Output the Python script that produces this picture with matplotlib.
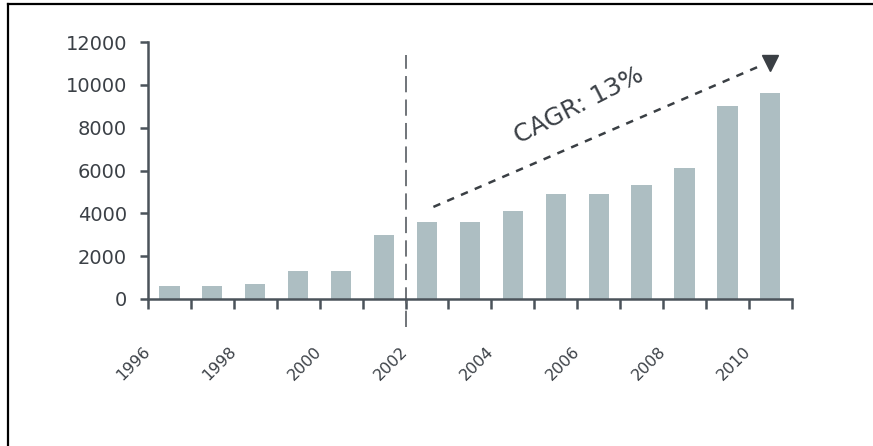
import numpy as np
import matplotlib.pyplot as plt
from matplotlib.lines import Line2D

years = np.arange(1996, 2011)
values = [600, 600, 700, 1300, 1300, 3000, 3600, 3600, 4100, 4900, 4900, 5300, 6100, 9000, 9600]
yticks = [0, 2000, 4000, 6000, 8000, 10000, 12000]
cagr_label = "CAGR: 13%"

bar_color = "#adbec2"
axis_color = "#4b535a"
text_color = "#3b4046"

plt.rcParams['font.family'] = ['DejaVu Sans']

fig = plt.figure(figsize=(8.73, 4.46), dpi=100)
ax = fig.add_axes([0.1695, 0.3296, 0.907 - 0.1695, 0.9058 - 0.3296])

x = np.arange(len(years))
ax.bar(x, values, width=0.47, color=bar_color)

ax.set_xlim(-0.5, len(years) - 0.5)
ax.set_ylim(0, 12000)

# ticks sit on the bar boundaries; every second one carries a year
edges = np.arange(len(years) + 1) - 0.5
ax.set_xticks(edges)
ax.set_xticklabels([str(y) if (y - 1996) % 2 == 0 else "" for y in years] + [""],
                   rotation=45, ha='right', va='center', rotation_mode='anchor',
                   fontsize=11.5, color=text_color)
ax.set_yticks(yticks)
ax.set_yticklabels([str(v) for v in yticks], fontsize=14, color=text_color)

for side in ['top', 'right']:
    ax.spines[side].set_visible(False)
for side in ['left', 'bottom']:
    ax.spines[side].set_color(axis_color)
    ax.spines[side].set_linewidth(1.8)
ax.tick_params(axis='x', length=7, width=1.8, color=axis_color, pad=29)
ax.tick_params(axis='y', length=6, width=1.8, color=axis_color, pad=9)

# split between the two periods
ax.axvline(5.5, ymin=-0.11, ymax=0.95, color="#65696e", linewidth=1.3,
           dashes=(9, 4), clip_on=False)

# growth trend arrow
ax.plot([6.15, 13.7], [4300, 10830], color="#3a3f44", linewidth=1.8,
        dashes=(3, 3))
ax.plot([14.0], [11020], marker='v', markersize=11, color="#3a3f44", clip_on=False)
ax.text(9.55, 9050, cagr_label, rotation=27, ha='center', va='center',
        fontsize=18, color=text_color)

# frame lines on the top and left of the figure
fig.add_artist(Line2D([0.0092, 0.0092], [0, 0.991], color='black', linewidth=1.6))
fig.add_artist(Line2D([0.0092, 1], [0.991, 0.991], color='black', linewidth=1.6))

fig.savefig('out.png', dpi=100)
